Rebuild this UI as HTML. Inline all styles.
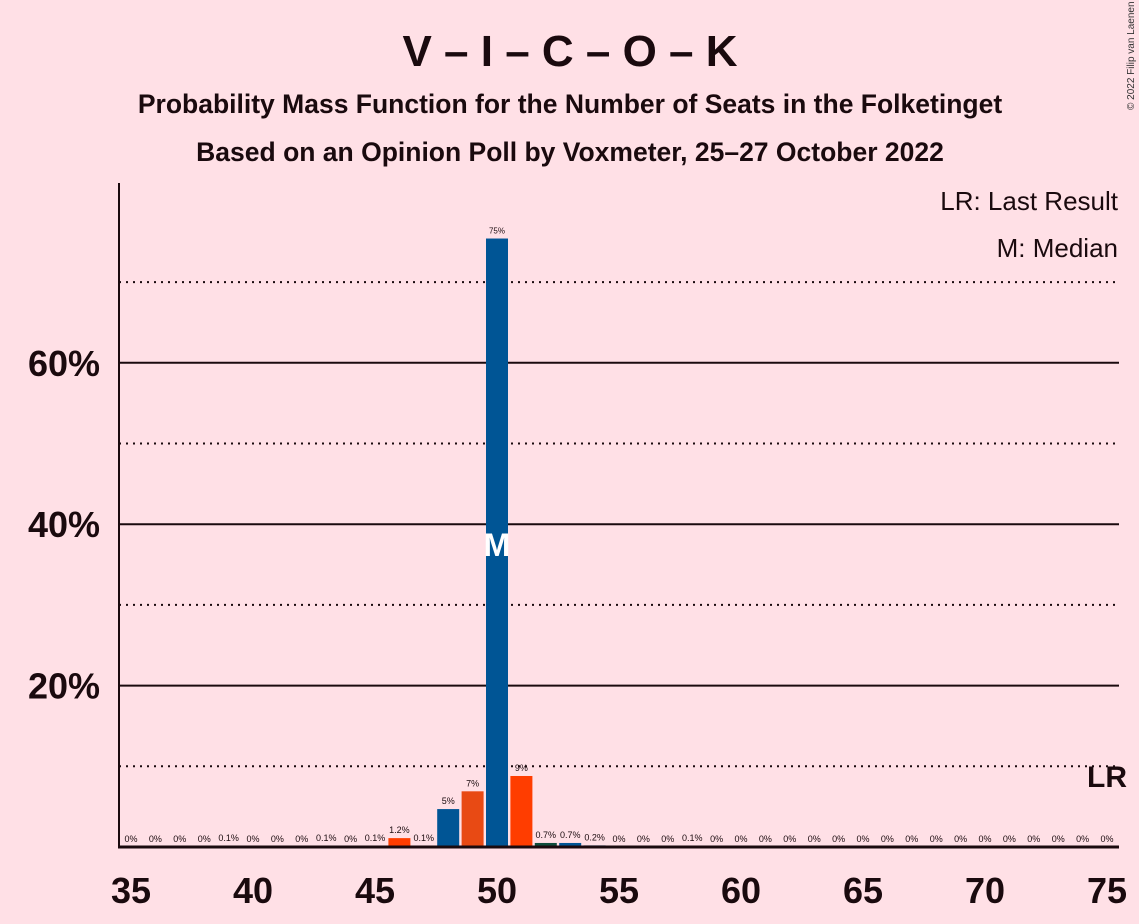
<!DOCTYPE html>
<html><head><meta charset="utf-8"><style>
body{margin:0;background:#FFE0E6;font-family:"Liberation Sans",sans-serif;}
</style></head><body>
<svg width="1139" height="924" xmlns="http://www.w3.org/2000/svg" style="display:block">
<rect width="1139" height="924" fill="#FFE0E6"/>
<text x="570" y="66" text-anchor="middle" font-size="44" font-weight="bold" fill="#1a0a0e">V – I – C – O – K</text>
<text x="570" y="113" text-anchor="middle" font-size="26.5" font-weight="bold" fill="#1a0a0e">Probability Mass Function for the Number of Seats in the Folketinget</text>
<text x="570" y="161" text-anchor="middle" font-size="26.5" font-weight="bold" fill="#1a0a0e">Based on an Opinion Poll by Voxmeter, 25–27 October 2022</text>
<text x="1134" y="110" font-size="10" fill="#333" transform="rotate(-90 1134 110)">© 2022 Filip van Laenen</text>
<text x="1118" y="210" text-anchor="end" font-size="26" fill="#1a0a0e">LR: Last Result</text>
<text x="1118" y="257" text-anchor="end" font-size="26" fill="#1a0a0e">M: Median</text>
<g id="grid"></g><g id="bars"></g><g id="labels"></g><g id="axes"></g>
</svg>
<script>
const seats=[35,36,37,38,39,40,41,42,43,44,45,46,47,48,49,50,51,52,53,54,55,56,57,58,59,60,61,62,63,64,65,66,67,68,69,70,71,72,73,74,75];
const probs=[0,0,0,0,0.1,0,0,0,0.1,0,0.1,1.1,0.1,4.7,6.9,75.4,8.8,0.5,0.5,0.2,0,0,0,0.1,0,0,0,0,0,0,0,0,0,0,0,0,0,0,0,0,0];
const valueLabels=["0%","0%","0%","0%","0.1%","0%","0%","0%","0.1%","0%","0.1%","1.2%","0.1%","5%","7%","75%","9%","0.7%","0.7%","0.2%","0%","0%","0%","0.1%","0%","0%","0%","0%","0%","0%","0%","0%","0%","0%","0%","0%","0%","0%","0%","0%","0%"];
const barColors={46:"#FF3D00",48:"#005595",49:"#E84A14",50:"#005595",51:"#FF3D00",52:"#0E4D3C",53:"#005595"};
const yTicks=[20,40,60];
const yDotted=[10,30,50,70];
const xTicks=[35,40,45,50,55,60,65,70,75];
const medianSeat=50, lastResult=75;
const NS="http://www.w3.org/2000/svg";
const x=s=>131+(s-35)*24.4;
const y=p=>847-p*8.07;
function mk(t,a,parent,txt){const e=document.createElementNS(NS,t);for(const k in a)e.setAttribute(k,a[k]);if(txt!==undefined)e.textContent=txt;document.getElementById(parent).appendChild(e);return e;}
yDotted.forEach(v=>{const e=mk('line',{x1:119,x2:1119,y1:y(v),y2:y(v),stroke:'#1a0a0e','stroke-width':2,'stroke-dasharray':'2,5'},'grid');

});
yTicks.forEach(v=>{const e=mk('line',{x1:119,x2:1119,y1:y(v),y2:y(v),stroke:'#1a0a0e','stroke-width':2},'grid');


const t=mk('text',{x:100,y:y(v)+13,'text-anchor':'end','font-size':36,'font-weight':'bold',fill:'#1a0a0e'},'axes',v+'%');

});
seats.forEach((s,i)=>{const p=probs[i];
if(p>0){const r=mk('rect',{x:x(s)-11,y:y(p),width:22,height:847-y(p),fill:barColors[s]||'#005595'},'bars');

}
const t=mk('text',{x:x(s),y:y(p)-5,'text-anchor':'middle','font-size':s==50?8:9,fill:'#1a0a0e'},'labels',valueLabels[i]);

});
const m=mk('text',{x:x(medianSeat),y:556,'text-anchor':'middle','font-size':32,'font-weight':'bold',fill:'#fff'},'labels','M');


const lr=mk('text',{x:x(lastResult),y:787,'text-anchor':'middle','font-size':30,'font-weight':'bold',fill:'#1a0a0e'},'labels','LR');


const ya=mk('line',{x1:119,x2:119,y1:183,y2:848,stroke:'#1a0a0e','stroke-width':2},'axes');


const xa=mk('line',{x1:118,x2:1119,y1:847,y2:847,stroke:'#1a0a0e','stroke-width':3},'axes');


xTicks.forEach(v=>{const t=mk('text',{x:x(v),y:903,'text-anchor':'middle','font-size':36,'font-weight':'bold',fill:'#1a0a0e'},'axes',v);

});
</script>
</body></html>
